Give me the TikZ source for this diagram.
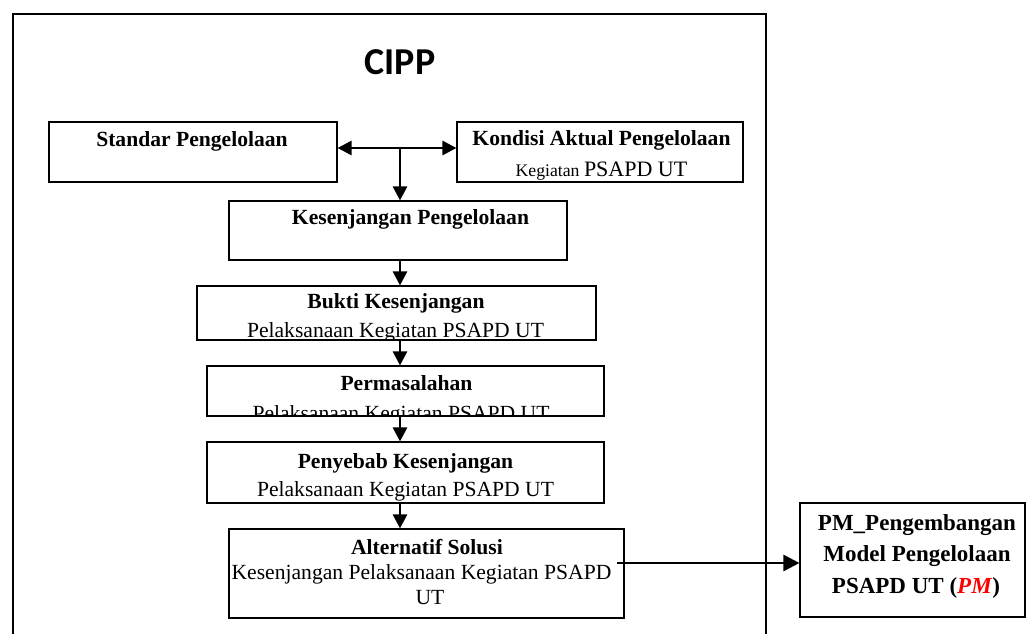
\documentclass[tikz,border=0pt]{standalone}
\usepackage{fontspec}
\setmainfont{Liberation Serif}
\newfontfamily\titlefont{Carlito}
\usetikzlibrary{arrows.meta}
\begin{document}
\begin{tikzpicture}[x=1pt,y=-1pt,
  box/.style={draw,line width=1.1pt,inner sep=0pt},
  frameline/.style={line width=2.3pt},
  txt/.style={inner sep=0pt,anchor=base,font=\fontsize{21.6}{26}\selectfont},
  btxt/.style={inner sep=0pt,anchor=base,font=\fontsize{21.6}{26}\selectfont\bfseries},
  pmtxt/.style={inner sep=0pt,anchor=base,font=\fontsize{23}{28}\selectfont\bfseries},
  flow/.style={line width=2.7pt,-{Triangle[length=14pt,width=14pt]}},
  both/.style={line width=2.7pt,{Triangle[length=14pt,width=14pt]}-{Triangle[length=14pt,width=14pt]}},
  bigflow/.style={line width=2.7pt,-{Triangle[length=16pt,width=16pt]}}
]
\useasboundingbox (0,0) rectangle (1026,634);
% outer frame (open at the bottom)
\draw[frameline] (13,634) -- (13,14) -- (766,14) -- (766,634);
\node[inner sep=0pt,anchor=base,font=\titlefont\fontsize{38}{44}\selectfont\bfseries] (title) at (400,75) {CIPP};

% boxes
\node[box,minimum width=288pt,minimum height=60pt] (std) at (193,152) {};
\node[box,minimum width=286pt,minimum height=60pt] (kon) at (600,152) {};
\node[box,minimum width=338pt,minimum height=59pt] (kes) at (398,230.5) {};
\node[box,minimum width=399pt,minimum height=54pt] (buk) at (396.5,313) {};
\node[box,minimum width=397pt,minimum height=50pt] (per) at (405.5,391) {};
\node[box,minimum width=397pt,minimum height=61pt] (pen) at (405.5,472.5) {};
\node[box,minimum width=395pt,minimum height=89pt] (alt) at (426.5,573.5) {};
\node[box,minimum width=225pt,minimum height=114pt] (pm) at (912.5,560) {};

% texts
\node[btxt] (tstd) at (192,146) {Standar Pengelolaan};
\node[btxt] (tkon) at (601.5,145) {Kondisi Aktual Pengelolaan};
\node[inner sep=0pt,anchor=base] (tkon2) at (601.5,176) {\fontsize{17.7}{20}\selectfont Kegiatan \fontsize{22}{26}\selectfont PSAPD UT};
\node[btxt] (tkes) at (410.5,224) {Kesenjangan Pengelolaan};
\node[btxt] (tbuk) at (396,308) {Bukti Kesenjangan};
\begin{scope}
  \clip (buk.south west) rectangle (buk.north east);
  \node[txt] (tbuk2) at (395.5,337) {Pelaksanaan Kegiatan PSAPD UT};
\end{scope}
\node[btxt] (tper) at (406.5,390) {Permasalahan};
\begin{scope}
  \clip (per.south west) rectangle (per.north east);
  \node[txt] (tper2) at (401,420) {Pelaksanaan Kegiatan PSAPD UT};
\end{scope}
\node[btxt] (tpen) at (405.5,468) {Penyebab Kesenjangan};
\node[txt] (tpen2) at (405.5,496) {Pelaksanaan Kegiatan PSAPD UT};
\node[btxt] (talt) at (427,554) {Alternatif Solusi};
\node[txt] (talt2) at (421.5,579) {Kesenjangan Pelaksanaan Kegiatan PSAPD};
\node[txt] (talt3) at (430,604) {UT};
\node[pmtxt] (tpm1) at (917,530) {PM\_Pengembangan};
\node[pmtxt] (tpm2) at (917,561) {Model Pengelolaan};
\node[pmtxt] (tpm3) at (916,593) {PSAPD UT (\textcolor{red}{\textit{PM}})};

% connectors
\coordinate (j) at (400,148);
\coordinate (a1) at (617,563);
\draw[both] (std.east |- j) -- (kon.west |- j);
\draw[flow] (j) -- (j |- kes.north);
\draw[flow] (j |- kes.south) -- (j |- buk.north);
\draw[flow] (j |- buk.south) -- (j |- per.north);
\draw[flow] (j |- per.south) -- (j |- pen.north);
\draw[flow] (j |- pen.south) -- (j |- alt.north);
\draw[bigflow] (a1) -- (a1 -| pm.west);
\end{tikzpicture}
\end{document}
